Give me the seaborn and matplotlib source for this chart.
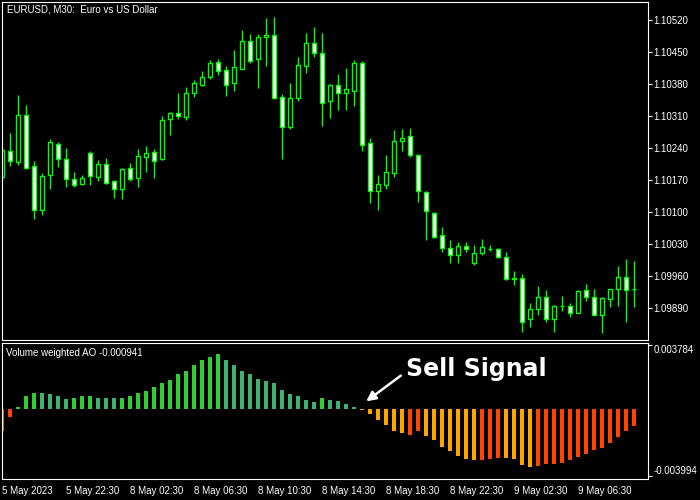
import matplotlib
matplotlib.use("Agg")
import matplotlib.pyplot as plt
import seaborn as sns
import pandas as pd

opens = [1.10177, 1.10235, 1.10209, 1.10312, 1.10201, 1.10104, 1.10181, 1.10249, 1.10216, 1.10172,
         1.10163, 1.10230, 1.10178, 1.10206, 1.10168, 1.10150, 1.10198, 1.10175, 1.10222, 1.10233,
         1.10216, 1.10305, 1.10317, 1.10309, 1.10360, 1.10379, 1.10395, 1.10429, 1.10411, 1.10382,
         1.10414, 1.10474, 1.10436, 1.10483, 1.10487, 1.10353, 1.10286, 1.10349, 1.10419, 1.10470,
         1.10448, 1.10343, 1.10379, 1.10362, 1.10366, 1.10426, 1.10252, 1.10147, 1.10160, 1.10187,
         1.10257, 1.10267, 1.10225, 1.10144, 1.10098, 1.10050, 1.10023, 1.10006, 1.10026, 1.09990,
         1.10010, 1.10019, 1.10019, 1.10002, 1.09956, 1.09956, 1.09866, 1.09888, 1.09914, 1.09867,
         1.09894, 1.09895, 1.09880, 1.09929, 1.09914, 1.09875, 1.09911, 1.09932, 1.09958, 1.09932]
highs = [1.10243, 1.10274, 1.10356, 1.10334, 1.10213, 1.10187, 1.10261, 1.10254, 1.10241, 1.10188,
         1.10182, 1.10235, 1.10214, 1.10219, 1.10170, 1.10196, 1.10207, 1.10238, 1.10244, 1.10239,
         1.10311, 1.10319, 1.10362, 1.10375, 1.10389, 1.10410, 1.10433, 1.10435, 1.10420, 1.10455,
         1.10499, 1.10490, 1.10490, 1.10525, 1.10527, 1.10359, 1.10382, 1.10439, 1.10493, 1.10506,
         1.10493, 1.10381, 1.10403, 1.10416, 1.10433, 1.10430, 1.10263, 1.10182, 1.10226, 1.10279,
         1.10283, 1.10284, 1.10228, 1.10147, 1.10101, 1.10068, 1.10039, 1.10035, 1.10035, 1.10028,
         1.10041, 1.10028, 1.10023, 1.10013, 1.09971, 1.09965, 1.09901, 1.09939, 1.09930, 1.09897,
         1.09917, 1.09901, 1.09930, 1.09943, 1.09933, 1.09915, 1.09932, 1.09983, 1.09997, 1.09994]
lows = [1.10171, 1.10201, 1.10203, 1.10195, 1.10086, 1.10095, 1.10152, 1.10200, 1.10156, 1.10156,
        1.10160, 1.10160, 1.10169, 1.10163, 1.10131, 1.10130, 1.10169, 1.10156, 1.10188, 1.10175,
        1.10214, 1.10270, 1.10305, 1.10302, 1.10353, 1.10376, 1.10392, 1.10400, 1.10354, 1.10366,
        1.10413, 1.10427, 1.10372, 1.10419, 1.10348, 1.10217, 1.10282, 1.10344, 1.10405, 1.10440,
        1.10289, 1.10306, 1.10324, 1.10324, 1.10333, 1.10235, 1.10121, 1.10105, 1.10152, 1.10178,
        1.10235, 1.10220, 1.10123, 1.10039, 1.10044, 1.10013, 1.09990, 1.09990, 1.10013, 1.09985,
        1.10007, 1.10016, 1.09999, 1.09953, 1.09942, 1.09838, 1.09850, 1.09875, 1.09859, 1.09838,
        1.09885, 1.09870, 1.09879, 1.09907, 1.09875, 1.09835, 1.09892, 1.09894, 1.09860, 1.09892]
closes = [1.10236, 1.10212, 1.10312, 1.10198, 1.10104, 1.10179, 1.10254, 1.10217, 1.10172, 1.10160,
          1.10175, 1.10179, 1.10206, 1.10165, 1.10152, 1.10194, 1.10172, 1.10223, 1.10230, 1.10213,
          1.10302, 1.10317, 1.10311, 1.10360, 1.10382, 1.10395, 1.10426, 1.10408, 1.10379, 1.10417,
          1.10474, 1.10432, 1.10483, 1.10487, 1.10349, 1.10286, 1.10349, 1.10422, 1.10470, 1.10449,
          1.10340, 1.10378, 1.10360, 1.10369, 1.10426, 1.10247, 1.10147, 1.10163, 1.10188, 1.10255,
          1.10263, 1.10225, 1.10146, 1.10102, 1.10045, 1.10023, 1.10007, 1.10026, 1.10020, 1.10010,
          1.10025, 1.10020, 1.10002, 1.09955, 1.09954, 1.09859, 1.09888, 1.09914, 1.09866, 1.09895,
          1.09895, 1.09880, 1.09927, 1.09914, 1.09876, 1.09913, 1.09932, 1.09958, 1.09929, 1.09932]

# Volume weighted AO (histograma)
ao = [-0.00130, -0.00052, 0.00012, 0.00078, 0.00096, 0.00095, 0.00090, 0.00078, 0.00060, 0.00066,
      0.00078, 0.00078, 0.00066, 0.00066, 0.00066, 0.00066, 0.00078, 0.00096, 0.00108, 0.00126,
      0.00150, 0.00168, 0.00204, 0.00222, 0.00258, 0.00288, 0.00306, 0.00324, 0.00288, 0.00258,
      0.00222, 0.00204, 0.00174, 0.00162, 0.00150, 0.00114, 0.00090, 0.00078, 0.00054, 0.00042,
      0.00066, 0.00054, 0.00048, 0.00030, 0.00012, -0.00006, -0.00030, -0.00066, -0.00096, -0.00132,
      -0.00144, -0.00156, -0.00132, -0.00162, -0.00186, -0.00228, -0.00252, -0.00282, -0.00300, -0.00306,
      -0.00306, -0.00300, -0.00294, -0.00294, -0.00300, -0.00336, -0.00348, -0.00342, -0.00330, -0.00330,
      -0.00324, -0.00306, -0.00288, -0.00270, -0.00246, -0.00234, -0.00204, -0.00168, -0.00132, -0.00102]
ao_cor = ["red", "red", "lime", "lime", "lime", "sea", "sea", "sea", "sea", "lime",
          "lime", "lime", "sea", "sea", "sea", "lime", "lime", "lime", "lime", "lime",
          "lime", "lime", "lime", "lime", "lime", "lime", "lime", "lime", "sea", "sea",
          "sea", "sea", "sea", "sea", "sea", "sea", "sea", "sea", "sea", "sea",
          "lime", "sea", "sea", "sea", "sea", "orange", "orange", "orange", "orange", "orange",
          "orange", "red", "red", "orange", "orange", "orange", "orange", "orange", "orange", "orange",
          "red", "red", "red", "orange", "orange", "orange", "orange", "red", "red", "red",
          "red", "red", "red", "red", "red", "red", "red", "red", "red", "red"]

price_ticks = [1.10520, 1.10450, 1.10380, 1.10310, 1.10240, 1.10170, 1.10100, 1.10030, 1.09960, 1.09890]
ao_ticks = [-0.003994, 0.003784]
time_labels = ["5 May 2023", "5 May 22:30", "8 May 02:30", "8 May 06:30", "8 May 10:30",
               "8 May 14:30", "8 May 18:30", "8 May 22:30", "9 May 02:30", "9 May 06:30"]

paleta = {"lime": "#32CD32", "sea": "#3CB371", "orange": "#FFA500", "red": "#FF4500"}
verde = "#00FF00"

sns.set_theme(style="dark", rc={"axes.facecolor": "black", "figure.facecolor": "black",
                                "axes.edgecolor": "white", "text.color": "white",
                                "xtick.color": "white", "ytick.color": "white"})
plt.rcParams["font.family"] = ["Liberation Sans", "DejaVu Sans"]

W, H = 700, 500
fig = plt.figure(figsize=(7, 5), dpi=100)
fig.patch.set_facecolor("black")

def rect(x0, y0, x1, y1):
    return [x0 / W, 1 - y1 / H, (x1 - x0) / W, (y1 - y0) / H]

ax = fig.add_axes(rect(2, 2, 648, 340))
ax2 = fig.add_axes(rect(2, 343, 648, 479))

df = pd.DataFrame({"o": opens, "h": highs, "l": lows, "c": closes})
df["i"] = range(len(df))
df["bull"] = df["c"] >= df["o"]

# velas
ax.vlines(df["i"], df["l"], df["h"], color=verde, lw=1, zorder=1)
ax.bar(df["i"], (df["c"] - df["o"]).abs(), bottom=df[["o", "c"]].min(axis=1), width=0.6,
       color=["black" if b else "white" for b in df["bull"]], edgecolor=verde, linewidth=1, zorder=2)
ax.set_xlim(0, 80.75)
ax.set_ylim(1.098207, 1.105600)
ax.set_xticks([])
ax.yaxis.tick_right()
ax.set_yticks(price_ticks, labels=[f"{p:.5f}" for p in price_ticks])
ax.tick_params(axis="y", colors="white", length=3, width=0.8, pad=1, labelsize=7)
for s in ax.spines.values():
    s.set_color("white")
    s.set_linewidth(0.8)

# histograma AO
dfa = pd.DataFrame({"i": range(len(ao)), "ao": ao, "cor": ao_cor})
sns.barplot(data=dfa, x="i", y="ao", hue="cor", palette=paleta, dodge=False, native_scale=True,
            width=0.5, saturation=1, legend=False, errorbar=None, linewidth=0, ax=ax2)
ax2.set_xlim(0, 80.75)
ax2.set_ylim(-0.00417, 0.0039)
ax2.set_xlabel("")
ax2.set_ylabel("")
ax2.yaxis.tick_right()
ax2.set_yticks(ao_ticks, labels=[f"{v:.6f}" for v in ao_ticks])
ax2.tick_params(axis="y", colors="white", length=3, width=0.8, pad=1, labelsize=7)
ax2.get_yticklabels()[0].set_va("bottom")
ax2.get_yticklabels()[1].set_va("top")
ax2.set_xticks(list(range(0, 80, 8)), labels=time_labels)
ax2.tick_params(axis="x", colors="white", length=4, width=0.8, pad=1, labelsize=7)
for lab in ax2.get_xticklabels():
    lab.set_ha("left")
for s in ax2.spines.values():
    s.set_color("white")
    s.set_linewidth(0.8)

# textos
fig.text(7 / W, 1 - 10 / H, "EURUSD, M30:  Euro vs US Dollar", fontsize=7, va="center", ha="left")
fig.text(6 / W, 1 - 353 / H, "Volume weighted AO -0.000941", fontsize=7, va="center", ha="left")
fig.text(406 / W, 1 - 376 / H, "Sell Signal", fontsize=17, fontweight="bold",
         family="DejaVu Sans", va="baseline", ha="left", color="white")
ax2.annotate("", xy=(364, H - 403), xycoords="figure pixels", xytext=(403, H - 374),
             textcoords="figure pixels", annotation_clip=False,
             arrowprops=dict(arrowstyle="-|>", color="white", lw=1.8, mutation_scale=14))

fig.savefig("out.png", dpi=100, facecolor="black")
